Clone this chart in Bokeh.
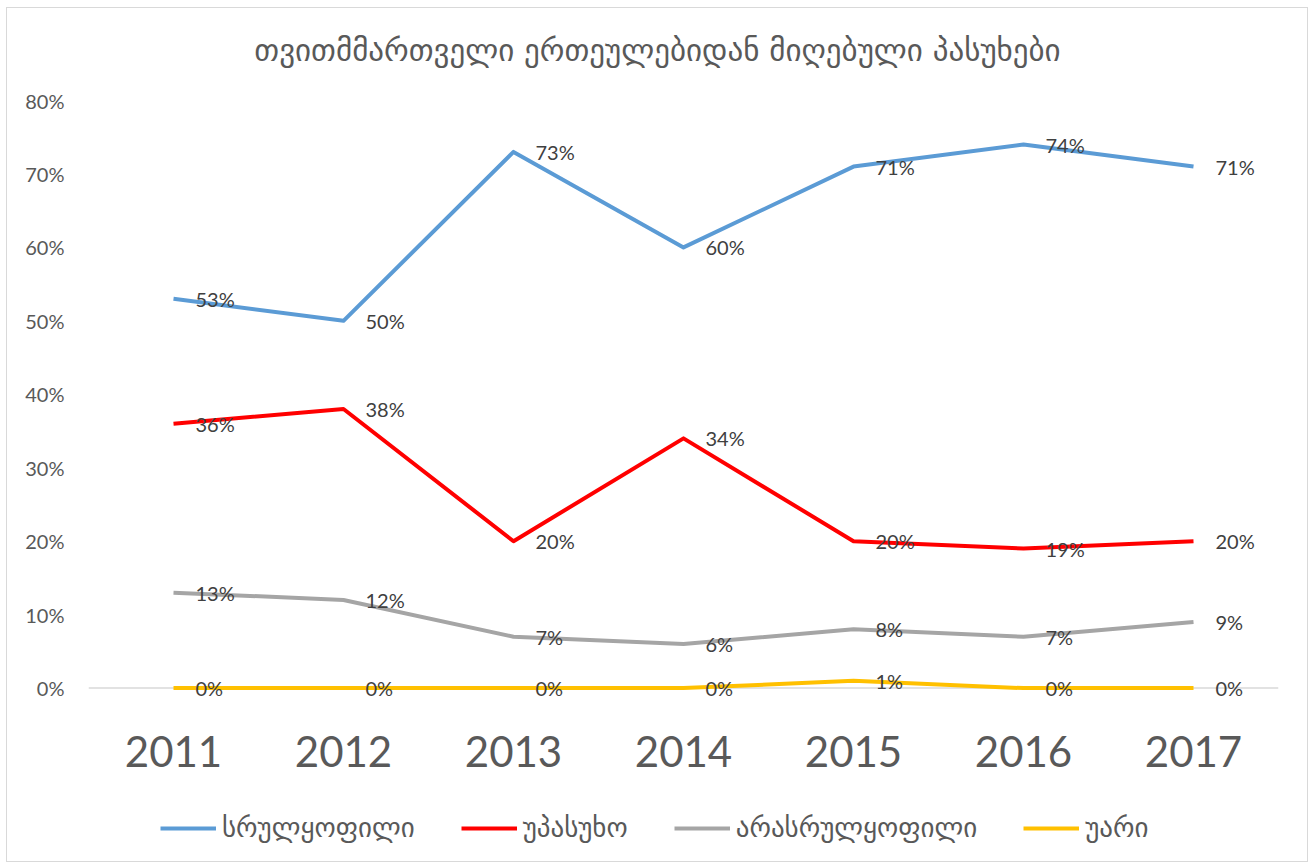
from bokeh.plotting import figure
from bokeh.layouts import column
from bokeh.models import ColumnDataSource, FactorRange, Range1d, NumeralTickFormatter, Span, Legend, LegendItem, FixedTicker, Label
from bokeh.core.properties import value
from bokeh.embed import file_html
from bokeh.resources import INLINE

years = ["2011", "2012", "2013", "2014", "2015", "2016", "2017"]
full = [0.53, 0.50, 0.73, 0.60, 0.71, 0.74, 0.71]
no_answer = [0.36, 0.38, 0.20, 0.34, 0.20, 0.19, 0.20]
partial = [0.13, 0.12, 0.07, 0.06, 0.08, 0.07, 0.09]
refused = [0.00, 0.00, 0.00, 0.00, 0.01, 0.00, 0.00]

series_names = ["სრულყოფილი", "უპასუხო", "არასრულყოფილი", "უარი"]
series_values = [full, no_answer, partial, refused]
series_colors = ["#5B9BD5", "#FF0000", "#A5A5A5", "#FFC000"]
title_text = "თვითმმართველი ერთეულებიდან მიღებული პასუხები"

GEO = "DejaVu Sans"
NUM = "Lato"
W = 1300
LEFT = 81          # frame left offset (strips get aligned to the main frame)

def strip(h, x_range=None, y_range=None):
    f = figure(width=W, height=h, x_range=x_range or Range1d(0, 1), y_range=y_range or Range1d(0, 1),
               output_backend="svg", toolbar_location=None,
               min_border_left=0, min_border_right=0, min_border_top=0, min_border_bottom=0)
    f.axis.visible = False
    f.grid.grid_line_color = None
    f.outline_line_color = None
    f.background_fill_color = "white"
    f.border_fill_color = "white"
    return f

# title strip
top = strip(80)
top.add_layout(Label(x=W / 2 - LEFT, y=39, x_units="screen", y_units="screen", text=title_text,
                     text_align="center", text_baseline="middle", text_font=GEO,
                     text_font_size="31px", text_color="#595959"))

# main chart
p = figure(width=W, height=707, x_range=FactorRange(*years, range_padding=0), y_range=Range1d(-0.04, 0.8),
           output_backend="svg", toolbar_location=None,
           min_border_left=LEFT, min_border_right=W - LEFT - 1190, min_border_top=12, min_border_bottom=78)
p.outline_line_color = None
p.xgrid.grid_line_color = None
p.ygrid.grid_line_color = None
p.background_fill_color = "white"
p.border_fill_color = "white"

p.add_layout(Span(location=0, dimension="width", line_color="#d9d9d9", line_width=1.5, level="underlay"))

for name, vals, col in zip(series_names, series_values, series_colors):
    src = ColumnDataSource(dict(x=years, y=vals))
    p.line("x", "y", source=src, line_color=col, line_width=4, line_join="round")

for name, vals, col in zip(series_names, series_values, series_colors):
    src = ColumnDataSource(dict(x=years, y=vals, lab=[f"{round(v*100)}%" for v in vals]))
    p.text("x", "y", text="lab", source=src, x_offset=22, text_align="left", text_baseline="middle",
           text_font=value(NUM), text_font_size="20px", text_color="#404040")

p.yaxis.ticker = FixedTicker(ticks=[0, 0.1, 0.2, 0.3, 0.4, 0.5, 0.6, 0.7, 0.8])
p.yaxis.formatter = NumeralTickFormatter(format="0%")
p.yaxis.axis_line_color = None
p.yaxis.major_tick_line_color = None
p.yaxis.minor_tick_line_color = None
p.yaxis.major_tick_out = 0
p.yaxis.major_label_standoff = 24
p.yaxis.major_label_text_font = NUM
p.yaxis.major_label_text_font_size = "20px"
p.yaxis.major_label_text_color = "#595959"

p.xaxis.axis_line_color = None
p.xaxis.major_tick_line_color = None
p.xaxis.major_tick_out = 0
p.xaxis.major_label_standoff = 18
p.xaxis.major_label_text_font = NUM
p.xaxis.major_label_text_font_size = "42px"
p.xaxis.major_label_text_color = "#595959"

# legend strip (series lines sit outside its visible range; only the legend shows)
lg = strip(66, x_range=FactorRange(*years), y_range=Range1d(5, 6))
lg_renderers = []
for vals, col in zip(series_values, series_colors):
    lg_renderers.append(lg.line(x=years, y=vals, line_color=col, line_width=4))

legend = Legend(items=[LegendItem(label=n, renderers=[r]) for n, r in zip(series_names, lg_renderers)],
                orientation="horizontal", location=(72, 18),
                label_text_font=GEO, label_text_font_size="27px", label_text_color="#595959",
                glyph_width=56, glyph_height=24, label_standoff=6, spacing=46,
                border_line_color=None, background_fill_alpha=0, padding=0, margin=0)
lg.add_layout(legend, "center")

layout = column(top, p, lg, spacing=0)
layout.styles = {"border": "1px solid #d9d9d9", "margin": "7px 0 0 6px"}

open("out.html", "w").write(file_html(layout, INLINE))
